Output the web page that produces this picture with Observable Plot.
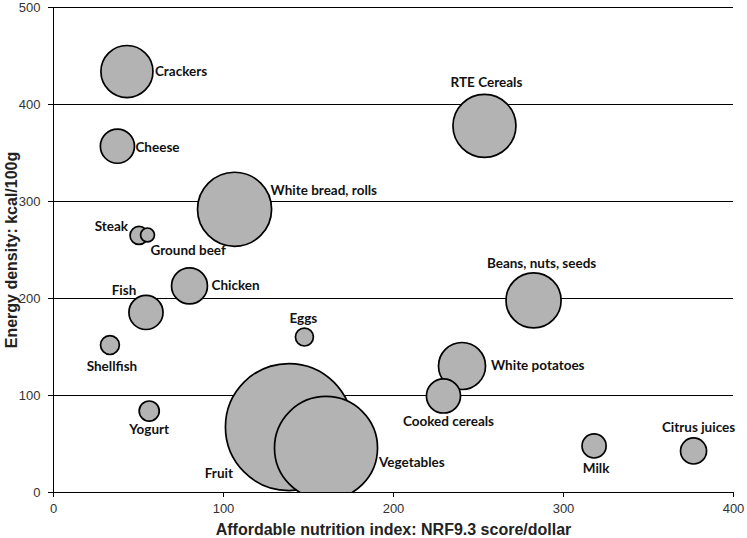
<!DOCTYPE html>
<html>
<head>
<meta charset="utf-8">
<script src="https://cdn.jsdelivr.net/npm/d3@7"></script>
<script src="https://cdn.jsdelivr.net/npm/@observablehq/plot@0.6"></script>
<style>
  html, body { margin: 0; padding: 0; background: #fff; }
  #chart { width: 747px; height: 538px; }
</style>
</head>
<body>
<div id="chart"></div>
<script>
// ---- Data ----
const foods = ["Cooked cereals", "White potatoes", "Crackers", "Cheese", "RTE Cereals", "White bread, rolls",
  "Steak", "Ground beef", "Chicken", "Fish", "Shellfish", "Yogurt", "Eggs", "Fruit", "Vegetables",
  "Beans, nuts, seeds", "Milk", "Citrus juices"];
const nrfPerDollar = [229.4, 240.3, 43.2, 37.6, 253.5, 106.5, 50.3, 55.3, 80.0, 54.4, 33.2, 56.3, 147.6, 138.5, 160.3, 282.4, 318.0, 376.5];
const energyDensity = [99.5, 130.4, 434, 357, 378, 292, 265, 265.5, 213, 185.6, 152, 84, 160.3, 67.5, 45.9, 198, 48, 42.8];
const bubbleSize = [7.2, 13.7, 16.8, 7.2, 24.6, 34.0, 2.0, 1.2, 8.0, 7.2, 2.2, 2.5, 2.0, 100, 65.8, 18.8, 3.6, 4.2];
const xTicks = [0, 100, 200, 300, 400];
const yTicks = [0, 100, 200, 300, 400, 500];
const gridTicks = [100, 200, 300, 400, 500];
const xTitle = "Affordable nutrition index: NRF9.3 score/dollar";
const yTitle = "Energy density: kcal/100g";

// Label placement (layout only)
const labelLayout = {
  "Crackers": {dx: 28, dy: 0, anchor: "start"},
  "Cheese": {dx: 18, dy: 1, anchor: "start"},
  "RTE Cereals": {dx: 2, dy: -43, anchor: "middle"},
  "White bread, rolls": {dx: 36, dy: -19, anchor: "start"},
  "Steak": {dx: -11, dy: -9, anchor: "end"},
  "Ground beef": {dx: 3, dy: 16, anchor: "start"},
  "Chicken": {dx: 22, dy: 0, anchor: "start"},
  "Fish": {dx: -22, dy: -22, anchor: "middle"},
  "Shellfish": {dx: 2, dy: 22, anchor: "middle"},
  "Yogurt": {dx: 0, dy: 19, anchor: "middle"},
  "Eggs": {dx: -1, dy: -18, anchor: "middle"},
  "Fruit": {dx: -56, dy: 47, anchor: "end"},
  "Vegetables": {dx: 53, dy: 15, anchor: "start"},
  "Cooked cereals": {dx: 5, dy: 26, anchor: "middle"},
  "White potatoes": {dx: 29, dy: 0, anchor: "start"},
  "Beans, nuts, seeds": {dx: 8, dy: -37, anchor: "middle"},
  "Milk": {dx: 2, dy: 23, anchor: "middle"},
  "Citrus juices": {dx: 5, dy: -23, anchor: "middle"}
};

const rows = foods.map((f, i) => ({food: f, x: nrfPerDollar[i], y: energyDensity[i], size: bubbleSize[i]}));

const labelMarks = rows.map(d => {
  const L = labelLayout[d.food];
  return Plot.text([d], {
    x: "x", y: "y", text: "food",
    dx: L.dx, dy: L.dy, textAnchor: L.anchor,
    fontFamily: "Lato", fontWeight: "bold", fontSize: 13.5, fill: "#111"
  });
});

const chart = Plot.plot({
  width: 747,
  height: 538,
  marginLeft: 53,
  marginRight: 14,
  marginTop: 7,
  marginBottom: 46,
  style: {fontFamily: "'Liberation Sans', Arial, sans-serif", fontSize: "13px", background: "#fff"},
  x: {domain: [0, 400]},
  y: {domain: [0, 500]},
  r: {type: "sqrt", domain: [0, 100], range: [0, 63.5]},
  marks: [
    Plot.gridY(gridTicks, {stroke: "#000", strokeOpacity: 1, strokeWidth: 1}),
    Plot.dot(rows, {x: "x", y: "y", r: "size", fill: "#b3b3b3", stroke: "#000", strokeWidth: 1.7, clip: true}),
    Plot.ruleX([0], {stroke: "#000", strokeWidth: 1}),
    Plot.ruleY([0], {stroke: "#000", strokeWidth: 1}),
    Plot.axisX(xTicks, {tickSize: 5, tickPadding: 6, fontSize: 13, fill: "#333", stroke: "#000", label: null}),
    Plot.axisY(yTicks, {tickSize: 5, tickPadding: 8, fontSize: 13, fill: "#333", stroke: "#000", label: null}),
    Plot.text([xTitle], {frameAnchor: "bottom", dy: 37, lineAnchor: "middle", textAnchor: "middle", fontSize: 16, fontWeight: "bold", fill: "#222", fontFamily: "'Liberation Sans', Arial, sans-serif"}),
    Plot.text([yTitle], {frameAnchor: "left", dx: -42, rotate: -90, textAnchor: "middle", lineAnchor: "middle", fontSize: 16, fontWeight: "bold", fill: "#222", fontFamily: "'Liberation Sans', Arial, sans-serif"}),
    ...labelMarks
  ]
});
document.getElementById("chart").appendChild(chart);
</script>
</body>
</html>
